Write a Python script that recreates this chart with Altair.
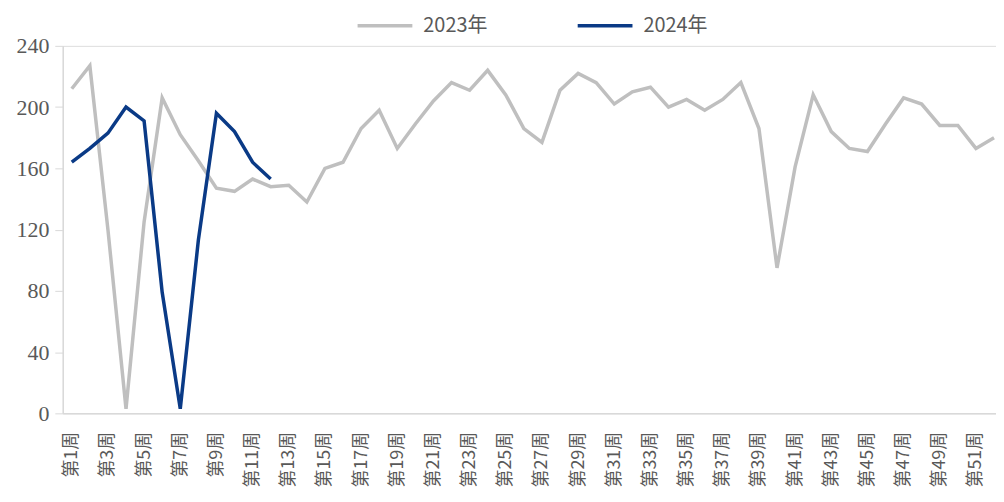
import altair as alt
import pandas as pd

weeks = [f"第{i}周" for i in range(1, 53)]
tick_weeks = [f"第{i}周" for i in range(1, 53, 2)]

years = ["2023年", "2024年"]
colors = ["#BFBFBF", "#0A3A86"]

v2023 = [212, 227, 120, 3, 125, 206, 182, 165, 147, 145, 153, 148, 149, 138,
         160, 164, 186, 198, 173, 189, 204, 216, 211, 224, 208, 186, 177, 211,
         222, 216, 202, 210, 213, 200, 205, 198, 205, 216, 186, 95, 161, 208,
         184, 173, 171, 189, 206, 202, 188, 188, 173, 180]
v2024 = [164, 173, 183, 200, 191, 79, 3, 113, 196, 184, 164, 153]

y_ticks = [0, 40, 80, 120, 160, 200, 240]

rows = []
for w, v in zip(weeks, v2023):
    rows.append({"week": w, "year": years[0], "value": v})
df23 = pd.DataFrame(rows)
rows = []
for w, v in zip(weeks, v2024):
    rows.append({"week": w, "year": years[1], "value": v})
df24 = pd.DataFrame(rows)

x_enc = alt.X(
    "week:N",
    sort=weeks,
    scale=alt.Scale(domain=weeks, type="point", padding=0.303, align=0.82),
    axis=alt.Axis(
        title=None,
        values=tick_weeks,
        labelAngle=-90,
        labelFont="Noto Sans CJK SC",
        labelFontSize=18,
        labelColor="#595959",
        labelPadding=18,
        labelOverlap=False,
        ticks=False,
        domainColor="#D9D9D9",
        domainWidth=1.5,
        grid=False,
    ),
)
y_enc = alt.Y(
    "value:Q",
    scale=alt.Scale(domain=[0, 240], nice=False),
    axis=alt.Axis(
        title=None,
        values=y_ticks,
        labelFont="Liberation Serif",
        labelFontSize=22,
        labelColor="#595959",
        labelPadding=6,
        tickSize=8,
        tickColor="#D9D9D9",
        domainColor="#D9D9D9",
        domainWidth=1.5,
        grid=False,
    ),
)
color_enc = alt.Color(
    "year:N",
    scale=alt.Scale(domain=years, range=colors),
    legend=alt.Legend(
        title=None,
        orient="none",
        direction="horizontal",
        legendX=294,
        legendY=-50,
        padding=0,
        symbolType="stroke",
        symbolSize=3025,
        symbolStrokeWidth=3.5,
        labelFont="Noto Sans CJK SC",
        labelFontSize=20,
        labelColor="#595959",
        labelOffset=9,
        columnPadding=83,
    ),
)

line23 = alt.Chart(df23).mark_line(strokeWidth=3.5).encode(x=x_enc, y=y_enc, color=color_enc)
line24 = alt.Chart(df24).mark_line(strokeWidth=3.5).encode(x=x_enc, y=y_enc, color=color_enc)

chart = (
    alt.layer(line23, line24)
    .properties(
        width=937,
        height=369,
        autosize=alt.AutoSizeParams(type="none"),
        padding={"left": 55, "top": 37, "right": 0, "bottom": 88},
    )
    .configure_view(stroke=None)
    .configure(background="white")
)

chart.save("out.html", embed_options={"renderer": "svg", "actions": False})
